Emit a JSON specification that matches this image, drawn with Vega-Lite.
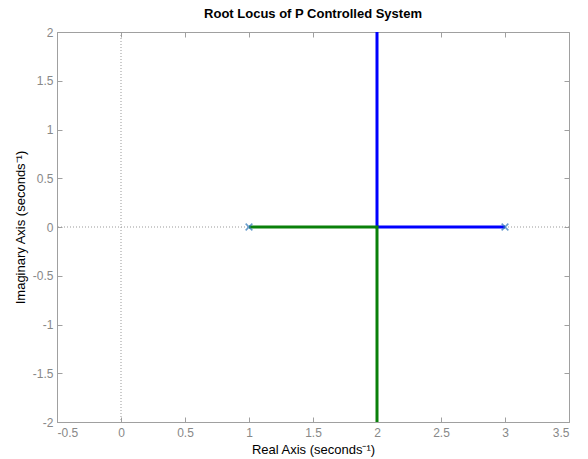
{
  "$schema": "https://vega.github.io/schema/vega-lite/v6.json",
  "autosize": "none",
  "width": 512,
  "height": 390,
  "padding": {"left": 57, "top": 32, "right": 19, "bottom": 37},
  "background": "white",
  "config": {
    "font": "Liberation Sans",
    "view": {"stroke": "#a0a0a0", "strokeWidth": 1},
    "axis": {
      "grid": false,
      "domainColor": "#a0a0a0",
      "tickColor": "#a0a0a0",
      "labelColor": "#888888",
      "labelFont": "Liberation Sans",
      "labelFontSize": 12,
      "titleFont": "Liberation Sans",
      "titleFontSize": 13,
      "titleFontWeight": "normal",
      "titleColor": "black"
    }
  },
  "title": {"text": "Root Locus of P Controlled System", "font": "Liberation Sans", "fontSize": 13, "fontWeight": "bold", "color": "black", "offset": 5},
  "datasets": {
    "locus": [
      {"branch": "b1", "order": 1, "re": 3, "im": 0},
      {"branch": "b1", "order": 2, "re": 2, "im": 0},
      {"branch": "b1", "order": 3, "re": 2, "im": 2},
      {"branch": "b2", "order": 1, "re": 1, "im": 0},
      {"branch": "b2", "order": 2, "re": 2, "im": 0},
      {"branch": "b2", "order": 3, "re": 2, "im": -2}
    ],
    "poles": [
      {"re": 1, "im": 0},
      {"re": 3, "im": 0}
    ],
    "zero": [
      {"v": 0}
    ]
  },
  "resolve": {"axis": {"x": "independent", "y": "independent"}},
  "layer": [
    {
      "data": {"name": "zero"},
      "mark": {"type": "rule", "strokeDash": [1, 2], "color": "#999999", "strokeWidth": 1},
      "encoding": {
        "x": {
          "field": "v", "type": "quantitative",
          "axis": {
            "orient": "bottom", "offset": -390, "labels": false, "domain": false, "title": null,
            "values": [-0.5, 0, 0.5, 1, 1.5, 2, 2.5, 3, 3.5], "tickSize": 5
          }
        }
      }
    },
    {
      "data": {"name": "zero"},
      "mark": {"type": "rule", "strokeDash": [1, 2], "color": "#999999", "strokeWidth": 1},
      "encoding": {
        "y": {
          "field": "v", "type": "quantitative",
          "axis": {
            "orient": "left", "offset": -512, "labels": false, "domain": false, "title": null,
            "values": [-2, -1.5, -1, -0.5, 0, 0.5, 1, 1.5, 2], "tickSize": 5
          }
        }
      }
    },
    {
      "data": {"name": "locus"},
      "mark": {"type": "line", "strokeWidth": 3, "clip": true},
      "encoding": {
        "x": {
          "field": "re", "type": "quantitative",
          "scale": {"domain": [-0.5, 3.5], "nice": false, "zero": false},
          "axis": {
            "orient": "bottom",
            "title": "Real Axis (seconds⁻¹)",
            "values": [-0.5, 0, 0.5, 1, 1.5, 2, 2.5, 3, 3.5],
            "labelExpr": "'' + datum.value",
            "ticks": false,
            "tickSize": 0,
            "labelPadding": 5,
            "titlePadding": 5
          }
        },
        "y": {
          "field": "im", "type": "quantitative",
          "scale": {"domain": [-2, 2], "nice": false, "zero": false},
          "axis": {
            "orient": "left",
            "title": "Imaginary Axis (seconds⁻¹)",
            "values": [-2, -1.5, -1, -0.5, 0, 0.5, 1, 1.5, 2],
            "labelExpr": "'' + datum.value",
            "ticks": false,
            "tickSize": 0,
            "labelPadding": 4,
            "titlePadding": 5
          }
        },
        "color": {
          "field": "branch", "type": "nominal",
          "scale": {"domain": ["b1", "b2"], "range": ["#0000ff", "#0a800a"]},
          "legend": null
        },
        "order": {"field": "order"}
      }
    },
    {
      "data": {"name": "poles"},
      "mark": {"type": "point", "shape": "M-1,-1L1,1M-1,1L1,-1", "filled": false, "size": 45, "strokeWidth": 1.5, "color": "#2a74b8"},
      "encoding": {
        "x": {
          "field": "re", "type": "quantitative",
          "axis": {
            "orient": "top", "offset": -390, "labels": false, "domain": false, "title": null,
            "values": [-0.5, 0, 0.5, 1, 1.5, 2, 2.5, 3, 3.5], "tickSize": 5
          }
        },
        "y": {
          "field": "im", "type": "quantitative",
          "axis": {
            "orient": "right", "offset": -512, "labels": false, "domain": false, "title": null,
            "values": [-2, -1.5, -1, -0.5, 0, 0.5, 1, 1.5, 2], "tickSize": 5
          }
        }
      }
    }
  ]
}
